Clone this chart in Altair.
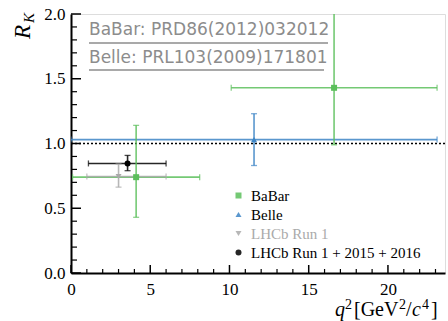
import altair as alt
import pandas as pd

# ---- data ----
experiments = ["BaBar", "BaBar", "Belle", "LHCb Run 1", "LHCb Run 1 + 2015 + 2016"]
q2_center = [4.11, 16.6, 11.55, 3.0, 3.57]
q2_low = [0.1, 10.11, 0.0, 1.0, 1.1]
q2_high = [8.12, 23.1, 23.1, 6.0, 6.0]
rk_value = [0.74, 1.43, 1.03, 0.745, 0.846]
rk_low = [0.43, 0.99, 0.83, 0.663, 0.79]
rk_high = [1.14, 2.08, 1.23, 0.842, 0.908]

legend_order = ["BaBar", "Belle", "LHCb Run 1", "LHCb Run 1 + 2015 + 2016"]
legend_colors = ["#5cbf5c", "#3d85c6", "#aaaaaa", "#000000"]
legend_shapes = ["square", "triangle-up", "triangle-down", "circle"]

x_major = [0, 5, 10, 15, 20]
x_minor = [1, 2, 3, 4, 6, 7, 8, 9, 11, 12, 13, 14, 16, 17, 18, 19, 21, 22, 23]
y_major = [0.0, 0.5, 1.0, 1.5, 2.0]
y_minor = [0.1, 0.2, 0.3, 0.4, 0.6, 0.7, 0.8, 0.9, 1.1, 1.2, 1.3, 1.4, 1.6, 1.7, 1.8, 1.9]
ref_level = [1.0]
refs = ["BaBar:  PRD86(2012)032012", "Belle:  PRL103(2009)171801"]

W, H = 374, 259
XMAX = 23.6
SERIF = "Liberation Serif"

df = pd.DataFrame({"exp": experiments, "x": q2_center, "xlo": q2_low, "xhi": q2_high,
                   "y": rk_value, "ylo": rk_low, "yhi": rk_high})

xs = alt.Scale(domain=[0, XMAX], nice=False, zero=False)
ys = alt.Scale(domain=[0, 2], nice=False)
cs = alt.Scale(domain=legend_order, range=legend_colors)
ss = alt.Scale(domain=legend_order, range=legend_shapes)

x_axis = alt.Axis(values=x_major, ticks=False, grid=False, title=None,
                  labelFont=SERIF, labelFontSize=17, labelColor="black",
                  labelPadding=8, domainColor="black", domainWidth=2, labelFlush=False)
y_axis = alt.Axis(values=y_major, format=".1f", ticks=False, grid=False, title=None,
                  labelFont=SERIF, labelFontSize=17, labelColor="black",
                  labelPadding=6, domainColor="black", domainWidth=2, labelFlush=False)


def X(f):
    return alt.X(f, type="quantitative", scale=xs, axis=x_axis, title=None)


def Y(f):
    return alt.Y(f, type="quantitative", scale=ys, axis=y_axis, title=None)


leg = alt.Legend(title=None, orient="none", legendX=160, legendY=174, padding=0,
                 labelFont=SERIF, labelFontSize=15, labelLimit=400,
                 labelColor=alt.ExprRef("datum.label == 'LHCb Run 1' ? '#aaaaaa' : 'black'"),
                 symbolSize=36, symbolStrokeWidth=0, labelOffset=5, rowPadding=3)

C = alt.Color("exp:N", scale=cs, legend=leg, title=None)
S = alt.Shape("exp:N", scale=ss, legend=leg, title=None)

base = alt.Chart(df)

xt_major = alt.Chart(pd.DataFrame({"v": x_major})).mark_rule(color="black", strokeWidth=1.5).encode(
    x=X("v"), y=alt.value(H), y2=alt.value(H - 8))
xt_minor = alt.Chart(pd.DataFrame({"v": x_minor})).mark_rule(color="black", strokeWidth=1.2).encode(
    x=X("v"), y=alt.value(H), y2=alt.value(H - 4))
yt_major = alt.Chart(pd.DataFrame({"v": y_major})).mark_rule(color="black", strokeWidth=1.5).encode(
    y=Y("v"), x=alt.value(0), x2=alt.value(10))
yt_minor = alt.Chart(pd.DataFrame({"v": y_minor})).mark_rule(color="black", strokeWidth=1.2).encode(
    y=Y("v"), x=alt.value(0), x2=alt.value(6))

ref_line = alt.Chart(pd.DataFrame({"v": ref_level})).mark_rule(
    color="black", strokeDash=[2, 2], strokeWidth=1.3).encode(
    y=Y("v"), x=alt.value(0), x2=alt.value(W))

hbar = base.mark_rule(strokeWidth=1.6, opacity=0.85, clip=True).encode(
    x=X("xlo"), x2="xhi", y=Y("y"), color=C)
vbar = base.mark_rule(strokeWidth=1.6, opacity=0.85, clip=True).encode(
    x=X("x"), y=Y("ylo"), y2="yhi", color=C)
hcap_lo = base.mark_tick(orient="vertical", size=6, thickness=1.3, clip=True).encode(
    x=X("xlo"), y=Y("y"), color=C)
hcap_hi = base.mark_tick(orient="vertical", size=6, thickness=1.3, clip=True).encode(
    x=X("xhi"), y=Y("y"), color=C)
vcap_lo = base.mark_tick(orient="horizontal", size=6, thickness=1.3, clip=True).encode(
    x=X("x"), y=Y("ylo"), color=C)
vcap_hi = base.mark_tick(orient="horizontal", size=6, thickness=1.3, clip=True).encode(
    x=X("x"), y=Y("yhi"), color=C)

points = base.mark_point(filled=True, size=36, opacity=1, clip=True).encode(
    x=X("x"), y=Y("y"), color=C, shape=S)

t_df = pd.DataFrame({"a": [0]})


def txt(text, x, y, **kw):
    return alt.Chart(t_df).mark_text(text=text, align="left", baseline="alphabetic", **kw).encode(
        x=alt.value(x), y=alt.value(y))


def hline(x1, x2, y, color):
    return alt.Chart(t_df).mark_rule(color=color, strokeWidth=1.5).encode(
        x=alt.value(x1), x2=alt.value(x2), y=alt.value(y))


gray = "#8c8c8c"
ref1 = txt(refs[0], 18, 21, font="DejaVu Sans", fontSize=17, color=gray)
ref2 = txt(refs[1], 18, 49, font="DejaVu Sans", fontSize=17, color=gray)
ul1 = hline(18, 257, 29, gray)
ul2 = hline(18, 253, 56, gray)

yt_R = txt("R", -41, 25, font=SERIF, fontStyle="italic", fontSize=23, angle=270, color="black")
yt_K = txt("K", -37, 9, font=SERIF, fontStyle="italic", fontSize=15, angle=270, color="black")

BL, SBL = 302, 295
title_parts = [
    txt("q", 264, BL, font=SERIF, fontStyle="italic", fontSize=20, color="black"),
    txt("2", 274, SBL, font=SERIF, fontSize=14, color="black"),
    txt("[GeV", 283, BL, font=SERIF, fontSize=20, color="black"),
    txt("2", 328, SBL, font=SERIF, fontSize=14, color="black"),
    txt("/", 335, BL, font=SERIF, fontSize=20, color="black"),
    txt("c", 341, BL, font=SERIF, fontStyle="italic", fontSize=20, color="black"),
    txt("4", 351, SBL, font=SERIF, fontSize=14, color="black"),
    txt("]", 360, BL, font=SERIF, fontSize=20, color="black"),
]

chart = alt.layer(
    ref_line, hbar, vbar, hcap_lo, hcap_hi, vcap_lo, vcap_hi, points,
    xt_major, xt_minor, yt_major, yt_minor, ref1, ref2, ul1, ul2,
    yt_R, yt_K, *title_parts
).properties(
    width=W, height=H, autosize=alt.AutoSizeParams(type="none"),
    padding={"left": 71, "top": 14, "right": 3, "bottom": 48}
).configure_view(stroke="#555555", strokeWidth=2).configure(background="white").configure_legend(
    labelFont=SERIF, labelFontSize=15, labelLimit=400)

chart.save("out.html", embed_options={"renderer": "svg", "actions": False})
